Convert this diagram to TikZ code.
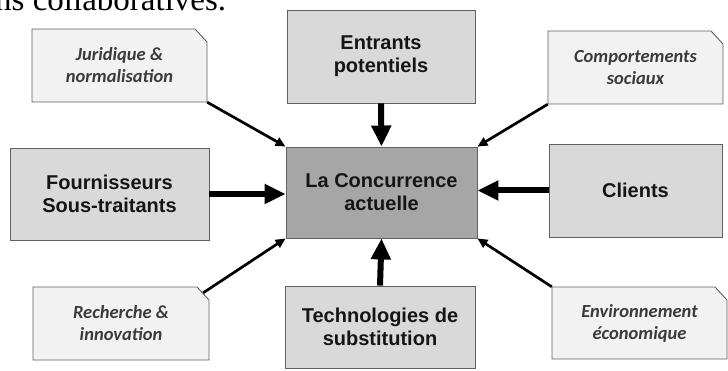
\documentclass[tikz,border=0pt]{standalone}
\usepackage{fontspec}
\setmainfont{Liberation Sans}
\newfontfamily\calfont{Carlito}
\newfontfamily\serfont{Liberation Serif}
\usetikzlibrary{arrows.meta}
\definecolor{lightbox}{HTML}{F2F2F2}
\definecolor{midbox}{HTML}{D9D9D9}
\definecolor{centerbox}{HTML}{A6A6A6}
\definecolor{edgegray}{HTML}{606060}
\definecolor{italtext}{HTML}{3A3A3A}
\definecolor{boldtext}{HTML}{151515}
\tikzset{
  boldbox/.style={draw=edgegray, line width=0.9pt, fill=midbox, align=center, inner sep=0pt,
    font=\fontsize{20}{23}\selectfont\bfseries, text=boldtext},
  italbox/.style={draw=none, align=center, inner sep=0pt,
    font=\calfont\fontsize{18.5}{22}\selectfont\bfseries\itshape, text=italtext},
  italshape/.style={draw=edgegray, line width=0.9pt, fill=lightbox},
  thinarrow/.style={line width=2.7pt, -{Triangle[length=10pt,width=9pt]}},
  thickarrow/.style={line width=6pt, -{Triangle[length=21pt,width=19pt]}}
}
\begin{document}
\begin{tikzpicture}[x=1pt,y=-1pt]
\useasboundingbox (0,0) rectangle (728,371);
\clip (0,0) rectangle (728,371);
% cropped caption line at top
\node[anchor=base west, inner sep=0pt, font=\serfont\fontsize{33}{33}\selectfont] (cap) at (-5,10.5) {ns collaboratives.};
% center
\node[boldbox, fill=centerbox, minimum width=191pt, minimum height=91pt] (cen) at (381.5,192.5) {La Concurrence\\actuelle};
% bold boxes
\node[boldbox, minimum width=188pt, minimum height=93pt] (ent) at (381,56.5) {Entrants\\potentiels};
\node[boldbox, minimum width=199pt, minimum height=92pt] (fou) at (109.5,194) {Fournisseurs\\Sous-traitants};
\node[boldbox, minimum width=173pt, minimum height=93pt] (cli) at (635.5,190.5) {Clients};
\node[boldbox, minimum width=190pt, minimum height=82pt] (tec) at (380,327) {Technologies de\\substitution};
% italic chamfered boxes (outline drawn first, text on top)
\path (119.5,65.5) coordinate (jurc) (635.5,67.5) coordinate (comc) (121,323.5) coordinate (recc0) (639.5,323) coordinate (envc);
\foreach \c/\w/\h in {jurc/175/73, comc/175/73, recc0/176/73, envc/175/72}{
  \draw[italshape] ([xshift=-\w/2*1pt,yshift=-\h/2*1pt]\c) -- ([xshift=-\w/2*1pt,yshift=\h/2*1pt]\c)
    -- ([xshift=\w/2*1pt-12pt,yshift=\h/2*1pt]\c) -- ([xshift=\w/2*1pt,yshift=\h/2*1pt-13pt]\c)
    -- ([xshift=\w/2*1pt,yshift=-\h/2*1pt]\c) -- cycle;
}
\node[italbox, minimum width=175pt, minimum height=73pt] (jur) at (jurc) {Juridique \&\\normalisation};
\node[italbox, minimum width=175pt, minimum height=73pt] (com) at (comc) {Comportements\\sociaux};
\node[italbox, minimum width=176pt, minimum height=73pt] (rec) at (recc0) {Recherche \&\\innovation};
\node[italbox, minimum width=175pt, minimum height=72pt] (env) at (envc) {Environnement\\économique};
\coordinate (recc) at ([xshift=-6pt,yshift=-6pt]rec.north east);
% thick arrows
\draw[thickarrow] (ent.south) -- (cen.north);
\draw[thickarrow] (tec.north) -- (cen.south);
\draw[thickarrow] (fou.east) -- (fou.east -| cen.west);
\draw[thickarrow] (cli.west) -- (cli.west -| cen.east);
% thin arrows
\draw[thinarrow] (jur.south east) -- (cen.north west);
\draw[thinarrow] (com.south west) -- (cen.north east);
\draw[thinarrow] (recc) -- (cen.south west);
\draw[thinarrow] (env.north west) -- (cen.south east);
\end{tikzpicture}
\end{document}
